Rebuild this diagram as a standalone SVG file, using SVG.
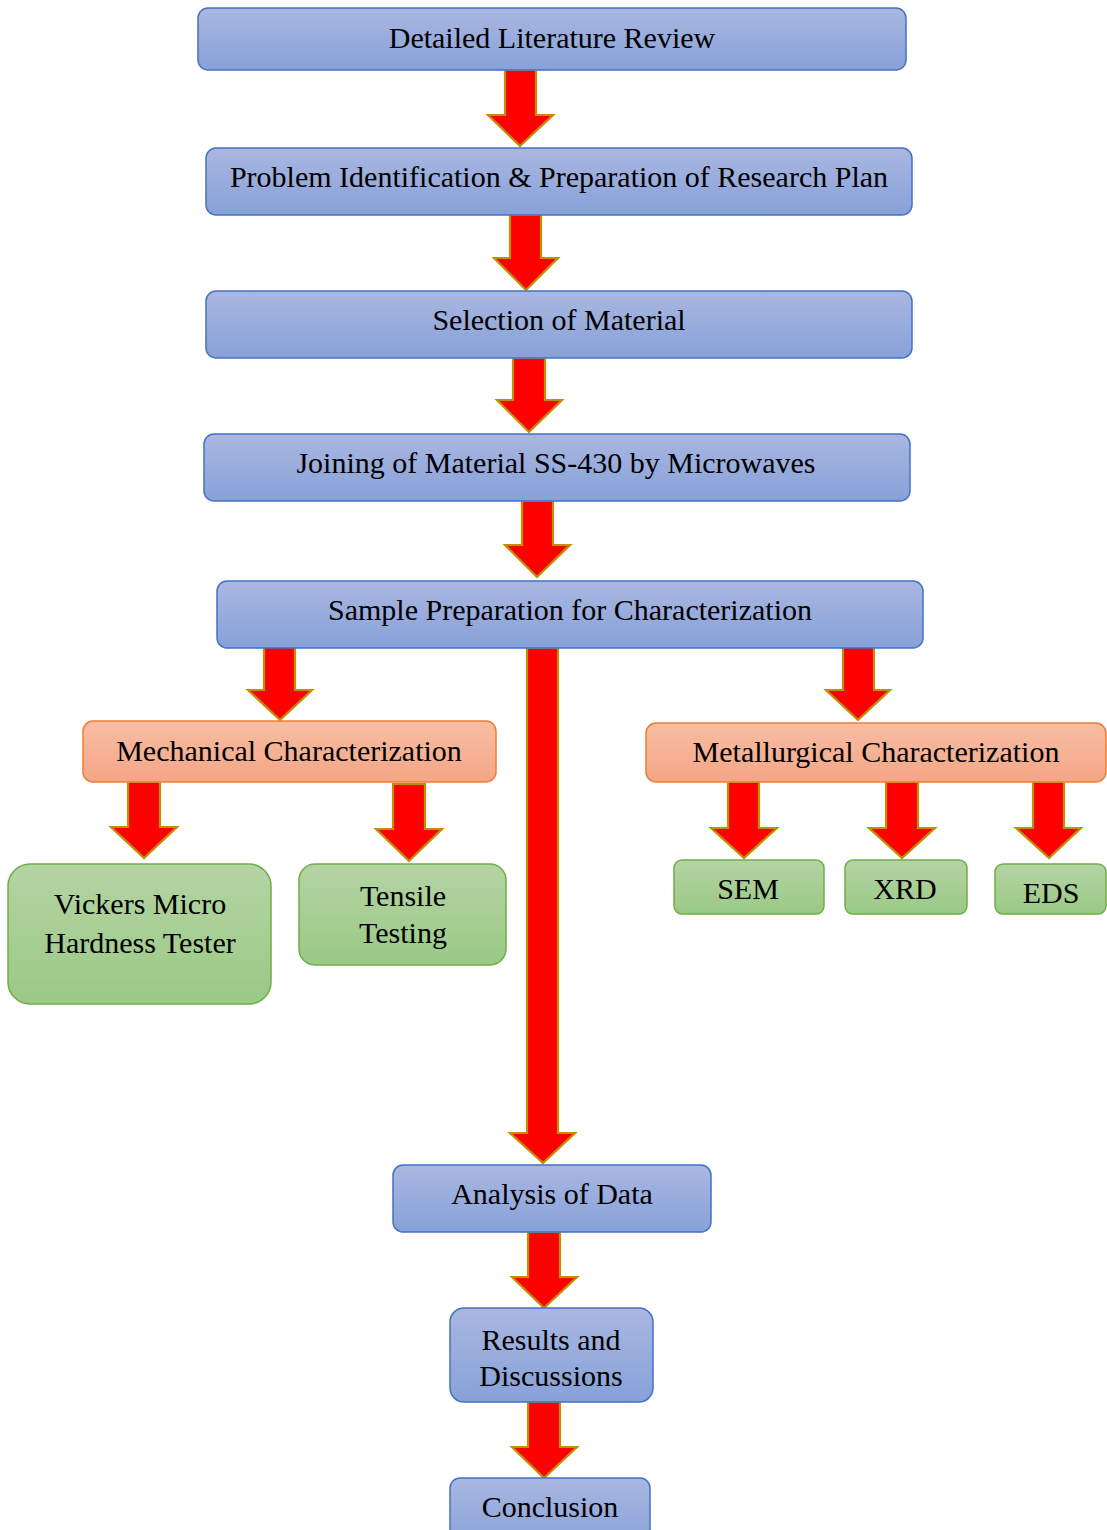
<svg xmlns="http://www.w3.org/2000/svg" width="1107" height="1530" viewBox="0 0 1107 1530">
<defs>
<linearGradient id="gb" x1="0" y1="0" x2="0" y2="1"><stop offset="0" stop-color="#AAB7E1"/><stop offset="1" stop-color="#87A1D8"/></linearGradient>
<linearGradient id="go" x1="0" y1="0" x2="0" y2="1"><stop offset="0" stop-color="#F8BDA3"/><stop offset="1" stop-color="#F4A686"/></linearGradient>
<linearGradient id="gg" x1="0" y1="0" x2="0" y2="1"><stop offset="0" stop-color="#B5D4A4"/><stop offset="1" stop-color="#9AC985"/></linearGradient>
</defs>
<style>
.b{fill:url(#gb);stroke:#4472C4;stroke-width:1.5}
.o{fill:url(#go);stroke:#ED7D31;stroke-width:1.5}
.g{fill:url(#gg);stroke:#70AD47;stroke-width:1.5}
.a{fill:#FF0000;stroke:#BF9000;stroke-width:2.2;stroke-linejoin:miter}
text{font-family:"Liberation Serif","Times New Roman",serif;font-size:30px;fill:#000;text-anchor:middle}
</style>
<g id="connectors">
<path class="a" d="M505,70 H536 V115 H553 L520,146 L488,115 H505 Z"/>
<path class="a" d="M510,215 H541 V258 H558 L526,290 L494,258 H510 Z"/>
<path class="a" d="M513,358 H545 V400 H562 L529,432 L497,400 H513 Z"/>
<path class="a" d="M522,501 H553 V545 H570 L537,577 L505,545 H522 Z"/>
<path class="a" d="M264,646 H295 V690 H312 L280,720 L248,690 H264 Z"/>
<path class="a" d="M527,648 H558 V1133 H575 L543,1163 L510,1133 H527 Z"/>
<path class="a" d="M843,646 H874 V690 H890 L858,720 L826,690 H843 Z"/>
<path class="a" d="M128,782 H160 V827 H177 L144,858 L111,827 H128 Z"/>
<path class="a" d="M393,784 H425 V829 H442 L409,861 L376,829 H393 Z"/>
<path class="a" d="M728,782 H759 V828 H777 L744,858 L711,828 H728 Z"/>
<path class="a" d="M886,782 H918 V828 H935 L902,858 L869,828 H886 Z"/>
<path class="a" d="M1033,782 H1064 V828 H1081 L1049,858 L1016,828 H1033 Z"/>
<path class="a" d="M528,1232 H560 V1277 H577 L544,1308 L512,1277 H528 Z"/>
<path class="a" d="M528,1402 H560 V1447 H577 L544,1478 L512,1447 H528 Z"/>
</g>
<g id="n1"><rect class="b" x="198" y="8" width="708" height="62" rx="10"/><text x="552" y="48">Detailed Literature Review</text></g>
<g id="n2"><rect class="b" x="206" y="148" width="706" height="67" rx="10"/><text x="559" y="187">Problem Identification &amp; Preparation of Research Plan</text></g>
<g id="n3"><rect class="b" x="206" y="291" width="706" height="67" rx="10"/><text x="559" y="330">Selection of Material</text></g>
<g id="n4"><rect class="b" x="204" y="434" width="706" height="67" rx="10"/><text x="556" y="473">Joining of Material SS-430 by Microwaves</text></g>
<g id="n5"><rect class="b" x="217" y="581" width="706" height="67" rx="10"/><text x="570" y="620">Sample Preparation for Characterization</text></g>
<g id="mech"><rect class="o" x="83" y="721" width="413" height="61" rx="10"/><text x="289" y="761">Mechanical Characterization</text></g>
<g id="met"><rect class="o" x="646" y="723" width="460" height="59" rx="10"/><text x="876" y="762">Metallurgical Characterization</text></g>
<g id="vickers"><rect class="g" x="8" y="864" width="263" height="140" rx="22"/><text x="140" y="914">Vickers Micro</text><text x="140" y="953">Hardness Tester</text></g>
<g id="tensile"><rect class="g" x="299" y="864" width="207" height="101" rx="16"/><text x="403" y="906">Tensile</text><text x="403" y="943">Testing</text></g>
<g id="sem"><rect class="g" x="674" y="860" width="150" height="54" rx="8"/><text x="748" y="899">SEM</text></g>
<g id="xrd"><rect class="g" x="845" y="860" width="122" height="54" rx="8"/><text x="905" y="899">XRD</text></g>
<g id="eds"><rect class="g" x="995" y="864" width="111" height="50" rx="8"/><text x="1051" y="903">EDS</text></g>
<g id="analysis"><rect class="b" x="393" y="1165" width="318" height="67" rx="10"/><text x="552" y="1204">Analysis of Data</text></g>
<g id="results"><rect class="b" x="450" y="1308" width="203" height="94" rx="14"/><text x="551" y="1350">Results and</text><text x="551" y="1386">Discussions</text></g>
<g id="conclusion"><rect class="b" x="450" y="1478" width="200" height="70" rx="10"/><text x="550" y="1517">Conclusion</text></g>
</svg>
